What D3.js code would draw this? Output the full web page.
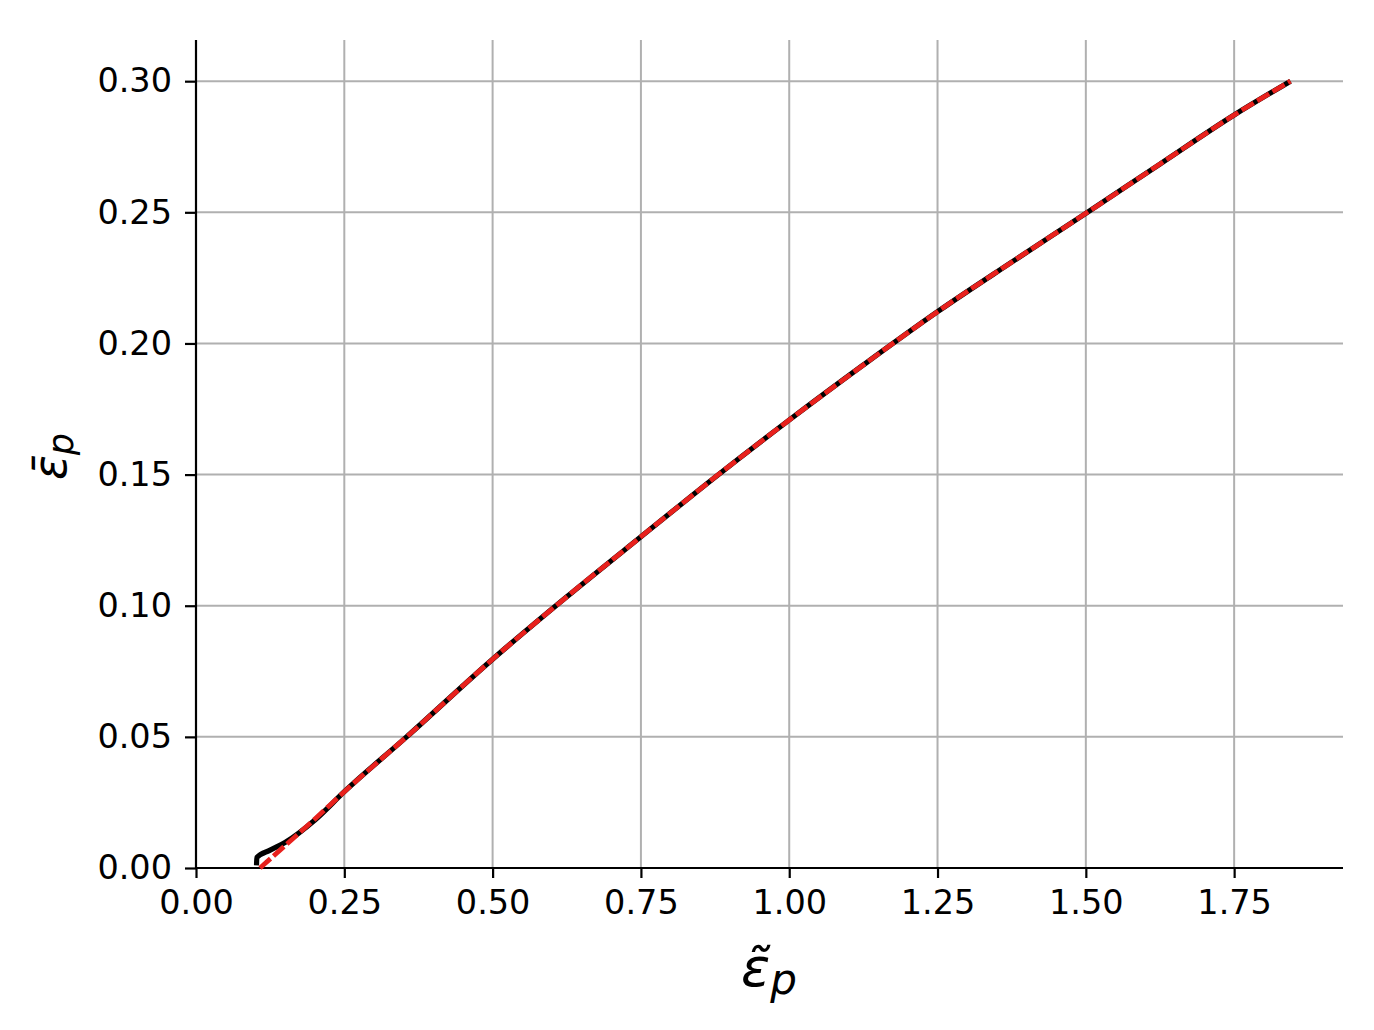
<!DOCTYPE html>
<html><head><meta charset="utf-8">
<script src="https://cdn.jsdelivr.net/npm/d3@7"></script>
<style>body{margin:0;background:#fff}svg{display:block}text{font-family:"DejaVu Sans",sans-serif}</style>
</head><body>
<svg id="c" width="1374" height="1030"></svg>
<script>
const xTicks = [0.00,0.25,0.50,0.75,1.00,1.25,1.50,1.75];
const yTicks = [0.00,0.05,0.10,0.15,0.20,0.25,0.30];
const blackX = [0.102,0.1025,0.125,0.15,0.2,0.25,0.355,0.5,0.625,0.75,0.875,1.0,1.125,1.25,1.375,1.5,1.625,1.75,1.845];
const blackY = [0.001,0.004,0.0068,0.0097,0.0182,0.0291,0.05,0.0796,0.1034,0.1263,0.149,0.1708,0.1918,0.2121,0.231,0.2496,0.2684,0.2871,0.30];
const redX = [0.108,0.15,0.2,0.25,0.355,0.5,0.625,0.75,0.875,1.0,1.125,1.25,1.375,1.5,1.625,1.75,1.845];
const redY = [0.0,0.0085,0.0186,0.0291,0.05,0.0796,0.1034,0.1263,0.149,0.1708,0.1918,0.2121,0.231,0.2496,0.2684,0.2871,0.30];

const svg = d3.select("#c");
const L=196,R=1343,T=40,B=868;
const x = d3.scaleLinear().domain([0,1.9335]).range([L,R]);
const y = d3.scaleLinear().domain([0,0.3157]).range([B,T]);

// grid
svg.append("g").selectAll("line").data(xTicks).join("line")
  .attr("x1",d=>x(d)).attr("x2",d=>x(d)).attr("y1",T).attr("y2",B)
  .attr("stroke","#b0b0b0").attr("stroke-width",2);
svg.append("g").selectAll("line").data(yTicks).join("line")
  .attr("x1",L).attr("x2",R).attr("y1",d=>y(d)).attr("y2",d=>y(d))
  .attr("stroke","#b0b0b0").attr("stroke-width",2);

// axes
const xa = svg.append("g").attr("transform",`translate(0,${B})`)
  .call(d3.axisBottom(x).tickValues(xTicks).tickFormat(d3.format(".2f")).tickSize(10).tickPadding(12));
const ya = svg.append("g").attr("transform",`translate(${L},0)`)
  .call(d3.axisLeft(y).tickValues(yTicks).tickFormat(d3.format(".2f")).tickSize(11).tickPadding(13));
[xa,ya].forEach(g=>{
  g.select(".domain").attr("stroke","#000").attr("stroke-width",2.2);
  g.selectAll(".tick line").attr("stroke","#000").attr("stroke-width",2.2);
  g.selectAll(".tick text").attr("fill","#000").style("font-size","33.5px").style("font-family","DejaVu Sans");
});
xa.select(".domain").attr("d",`M${L},0H${R}`);
ya.select(".domain").attr("d",`M0,${T}V${B}`);

// lines
const bData = blackX.map((v,i)=>[v,blackY[i]]);
const rData = redX.map((v,i)=>[v,redY[i]]);
const line = d3.line().x(d=>x(d[0])).y(d=>y(d[1])).curve(d3.curveMonotoneX);
svg.append("path").attr("d",line(bData)).attr("fill","none").attr("stroke","#000")
  .attr("stroke-width",5.2).attr("stroke-linejoin","round");
svg.append("path").attr("d",line(rData)).attr("fill","none").attr("stroke","#e8211d")
  .attr("stroke-width",4.8).attr("stroke-dasharray","14,4");

// axis labels
const xl = svg.append("text").attr("transform","translate(741,986)");
xl.append("tspan").text("ε\u0303").style("font-size","54px").style("font-style","italic");
xl.append("tspan").text("p").attr("dy",8).style("font-size","42px").style("font-style","italic");

const yl = svg.append("text").attr("transform","translate(66,480) rotate(-90)");
yl.append("tspan").text("ε\u0304").style("font-size","46px").style("font-style","italic");
yl.append("tspan").text("p").attr("dy",7).style("font-size","35px").style("font-style","italic");
</script>
</body></html>
